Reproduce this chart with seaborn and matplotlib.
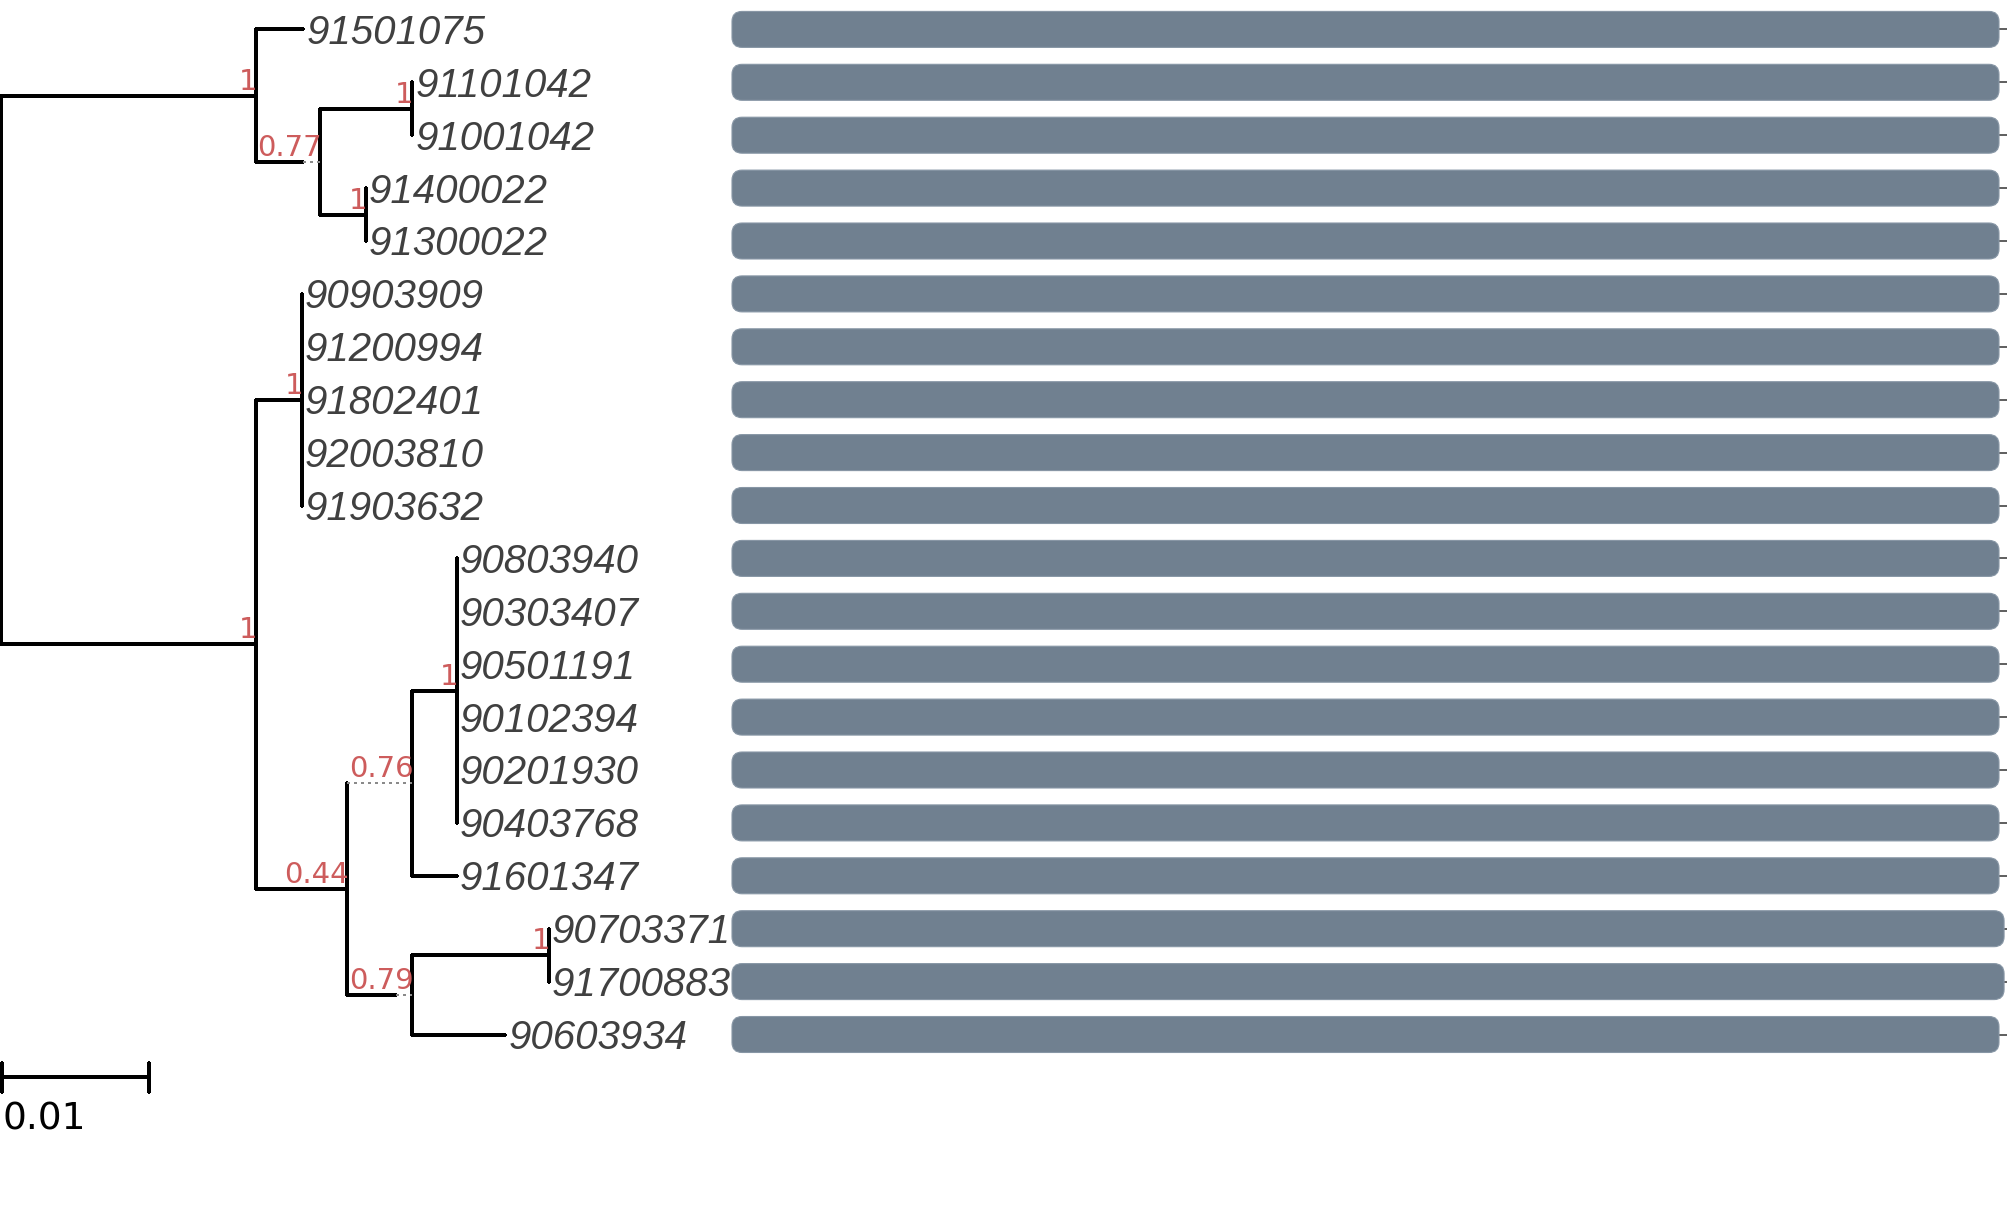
import numpy as np
import pandas as pd
import seaborn as sns
import matplotlib.pyplot as plt
from matplotlib.patches import FancyBboxPatch

sns.set_theme(style="white")
plt.rcParams["font.family"] = ["Liberation Sans", "DejaVu Sans"]

# ---------------- data ----------------
tip_labels = ["91501075", "91101042", "91001042", "91400022", "91300022",
              "90903909", "91200994", "91802401", "92003810", "91903632",
              "90803940", "90303407", "90501191", "90102394", "90201930",
              "90403768", "91601347", "90703371", "91700883", "90603934"]

# tree edges (parent -> child, branch length in substitutions/site)
edge_parent = ["root", "root",
               "A", "A", "B", "B", "C", "C", "D", "D",
               "E", "E", "F", "F", "F", "F", "F",
               "G", "G", "H", "H",
               "I", "I", "I", "I", "I", "I",
               "J", "J", "K", "K"]
edge_child = ["A", "E",
              "91501075", "B", "C", "D", "91101042", "91001042", "91400022", "91300022",
              "F", "G", "90903909", "91200994", "91802401", "92003810", "91903632",
              "H", "J", "I", "91601347",
              "90803940", "90303407", "90501191", "90102394", "90201930", "90403768",
              "K", "90603934", "90703371", "91700883"]
edge_length = [0.01730, 0.01730,
               0.00322, 0.00435, 0.00626, 0.00313, 0.0, 0.0, 0.0, 0.0,
               0.00313, 0.00617, 0.0, 0.0, 0.0, 0.0, 0.0,
               0.00443, 0.00443, 0.00304, 0.00304,
               0.0, 0.0, 0.0, 0.0, 0.0, 0.0,
               0.00930, 0.00635, 0.0, 0.0]
# part of the branch (fraction) after which it is drawn dotted
edge_dotted_from = {"B": 0.74, "H": 0.0, "J": 0.75}

support_nodes = ["A", "B", "C", "D", "E", "F", "G", "H", "I", "J", "K"]
support_values = ["1", "0.77", "1", "1", "1", "1", "0.44", "0.76", "1", "0.79", "1"]

bar_lengths = [100, 100, 100, 100, 100, 100, 100, 100, 100, 100,
               100, 100, 100, 100, 100, 100, 100, 100.4, 100.4, 100]

SCALE_LEN = 0.01

BAR_COLOR = "#708090"
SUPPORT_COLOR = "#cd5c5c"
LABEL_COLOR = "#404040"

# ---------------- layout of the tree ----------------
children = {}
length_of = {}
for p, c, l in zip(edge_parent, edge_child, edge_length):
    children.setdefault(p, []).append(c)
    length_of[c] = l

node_x = {"root": 0.0}
node_y = {}


def place(node):
    for ch in children.get(node, []):
        node_x[ch] = node_x[node] + length_of[ch]
        place(ch)
    if node in tip_labels:
        node_y[node] = tip_labels.index(node)
    else:
        ys = [node_y[ch] for ch in children[node]]
        node_y[node] = (min(ys) + max(ys)) / 2


place("root")

solid_rows, dotted_rows = [], []
seg = 0
for p, kids in children.items():
    ys = [node_y[ch] for ch in kids]
    solid_rows += [(seg, node_x[p], min(ys)), (seg, node_x[p], max(ys))]
    seg += 1
    for ch in kids:
        if length_of[ch] == 0:
            continue
        x0, x1, y = node_x[p], node_x[ch], node_y[ch]
        f = edge_dotted_from.get(ch, 1.0)
        xm = x0 + f * (x1 - x0)
        if f > 0:
            solid_rows += [(seg, x0, y), (seg, xm, y)]
            seg += 1
        if f < 1:
            dotted_rows += [(seg, xm, y), (seg, x1, y)]
            seg += 1

solid_df = pd.DataFrame(solid_rows, columns=["seg", "x", "y"])
dotted_df = pd.DataFrame(dotted_rows, columns=["seg", "x", "y"])

# ---------------- figure ----------------
W, H = 2007, 1210
fig = plt.figure(figsize=(W / 100, H / 100), dpi=100)

px_per_unit = 14720.0          # 0.01 -> 147 px
row_px = 52.9
top_px = 29.4
ylim = ((H - top_px) / row_px, -top_px / row_px)

ax = fig.add_axes([0, 0, 1, 1])
ax.patch.set_visible(False)

sns.lineplot(data=solid_df, x="x", y="y", units="seg", estimator=None, sort=False,
             color="black", lw=1.7, ax=ax)
n_solid = len(ax.lines)
sns.lineplot(data=dotted_df, x="x", y="y", units="seg", estimator=None, sort=False,
             color="#8a8a8a", lw=1.6, ax=ax)
for i, line in enumerate(ax.lines):
    line.set_antialiased(False)
    if i >= n_solid:
        line.set_linestyle((0, (1, 2.2)))

# tip labels
for t in tip_labels:
    ax.annotate(t, (node_x[t], node_y[t]), xytext=(2.2, -10.4), textcoords="offset points",
                ha="left", va="baseline", fontsize=29, style="italic", color=LABEL_COLOR)

# support values
for n, s in zip(support_nodes, support_values):
    ax.annotate(s, (node_x[n], node_y[n]), xytext=(1.2, 0), textcoords="offset points",
                ha="right", va="bottom", fontsize=21, color=SUPPORT_COLOR,
                family="DejaVu Sans")

# scale bar
sb_y = len(tip_labels) - 1 + 0.8
x_sb0 = 0.00005
ax.plot([x_sb0, x_sb0 + SCALE_LEN], [sb_y, sb_y], color="black", lw=1.7, antialiased=False)
for xx in (x_sb0, x_sb0 + SCALE_LEN):
    ax.plot([xx, xx], [sb_y - 0.27, sb_y + 0.28], color="black", lw=1.7, antialiased=False)
ax.text(x_sb0, sb_y + 0.46, f"{SCALE_LEN:g}", ha="left", va="top", fontsize=27,
        color="black", family="DejaVu Sans")

ax.set_xlim(-1.3 / px_per_unit, (W - 1.3) / px_per_unit)
ax.set_ylim(*ylim)
ax.set_axis_off()
if ax.get_legend():
    ax.get_legend().remove()

# ---------------- bars ----------------
bar_left, bar_right = 732, 1999
ax_bar = fig.add_axes([bar_left / W, 0, (bar_right - bar_left) / W, 1])
ax_bar.patch.set_visible(False)
sns.barplot(x=bar_lengths, y=tip_labels, orient="h", color=BAR_COLOR, saturation=1,
            width=0.68, ax=ax_bar)
ax_bar.set_xlim(0, 100)
ax_bar.set_ylim(*ylim)

xpu = (bar_right - bar_left) / 100.0
ypu = row_px
radius_px = 10
r = radius_px / xpu
aspect = (radius_px / ypu) / r
for p in list(ax_bar.patches):
    x0, y0, w, h = p.get_x(), p.get_y(), p.get_width(), p.get_height()
    p.remove()
    ax_bar.add_patch(FancyBboxPatch((x0, y0), w, h,
                                    boxstyle=f"round,pad=0,rounding_size={r}",
                                    mutation_aspect=aspect, fc=BAR_COLOR,
                                    ec="#8796a5", lw=0.8, clip_on=False, zorder=2))

for sp in ax_bar.spines.values():
    sp.set_visible(False)
ax_bar.set_axisbelow(True)
ax_bar.set_xticks([])
ax_bar.yaxis.tick_right()
ax_bar.tick_params(axis="y", right=True, left=False, length=5.8, width=1.1,
                   color="#333333", labelright=False, labelleft=False)
ax_bar.set_xlabel("")
ax_bar.set_ylabel("")

fig.savefig("out.png", dpi=100)
